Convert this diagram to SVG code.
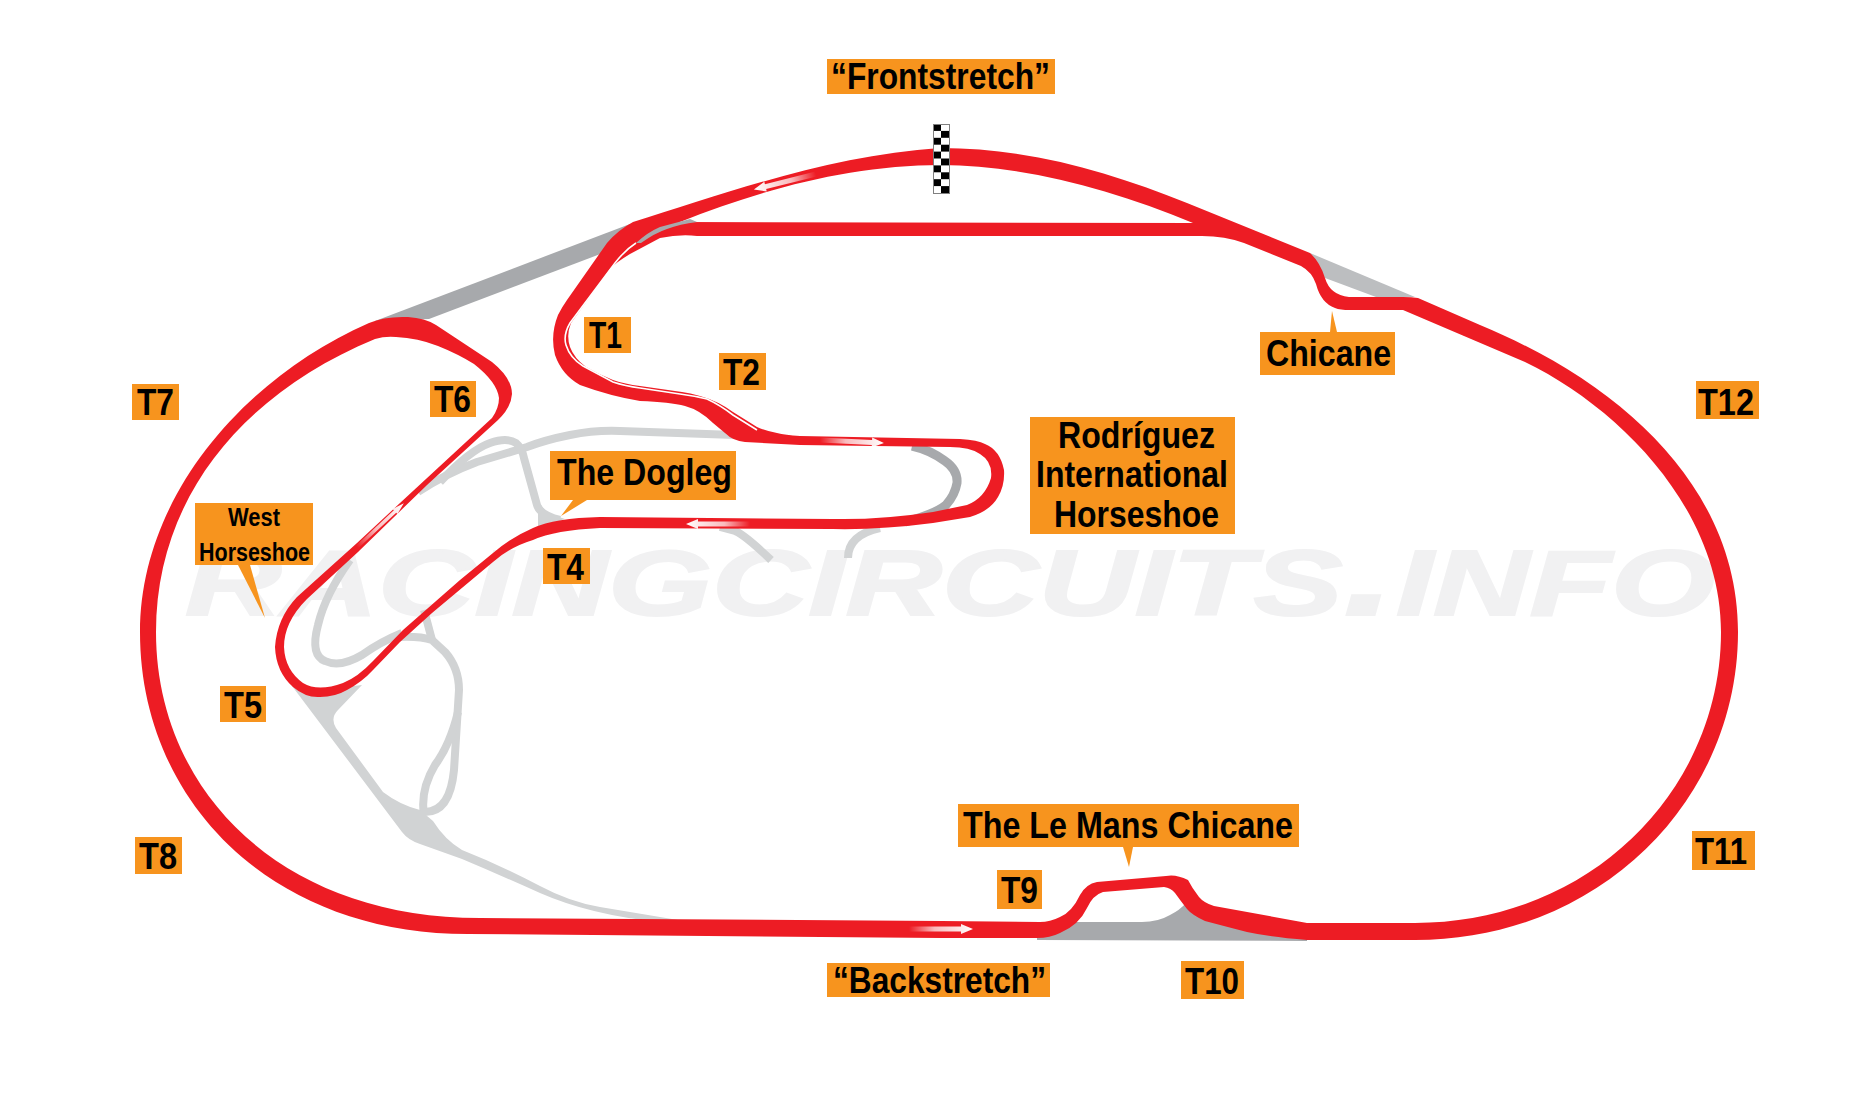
<svg xmlns="http://www.w3.org/2000/svg" width="1875" height="1110" viewBox="0 0 1875 1110">
<style>
.lb{fill:#f7941e}
.t{font-family:"Liberation Sans",Arial,sans-serif;font-weight:bold;font-size:36px;fill:#000}
.s{font-size:25px}
.w{font-family:"Liberation Sans",Arial,sans-serif;font-weight:bold;font-style:italic;font-variant:small-caps;font-size:132px;fill:#f1f1f2;stroke:#f1f1f2;stroke-width:2}
.lg{fill:none;stroke:#d1d3d4;stroke-width:8}
.dg{fill:none;stroke:#a7a9ac;stroke-width:9}
</style>
<defs>
<linearGradient id="fade"><stop offset="0" stop-color="#fff" stop-opacity="0"/><stop offset=".4" stop-color="#fff" stop-opacity=".7"/><stop offset="1" stop-color="#fff"/></linearGradient>
<path id="arrow" fill="url(#fade)" d="M0 -2.5H52V-5L64 0L52 5V2.5H0Z"/>
<pattern id="chk" x="933" y="124" width="16" height="13.8" patternUnits="userSpaceOnUse">
<rect width="16" height="13.8" fill="#fff"/><rect width="8" height="6.9" fill="#000"/><rect x="8" y="6.9" width="8" height="6.9" fill="#000"/>
</pattern>
</defs>
<rect width="1875" height="1110" fill="#fff"/>
<text id="watermark" class="w" x="185" y="615" textLength="1530" lengthAdjust="spacingAndGlyphs">racingcircuits.info</text>
<g id="service-roads">
<path fill="#a7a9ac" d="M375 321L630 224L640 232L603 253L429 319Z"/>
<path fill="#bcbec0" d="M1310 253L1415 297L1376 297L1325 278Z"/>
<path fill="#a7a9ac" d="M1037 938L1076 922L1142 922Q1158 922 1170 915Q1180 910 1186 903L1205 915L1253 925L1307 932L1307 941L1037 940Z"/>
<path class="dg" d="M912 446Q930 450 945 461Q958 470 957 483Q955 495 946 505Q935 514 905 522"/>
<path class="lg" d="M735 435L620 431Q595 430 570 435Q545 440 527 447L477 462Q445 474 418 492"/>
<path class="lg" stroke-width="7" d="M440 482Q470 450 490 443Q507 437 516 443Q522 448 524 458L537 505Q540 515 560 520"/>
<path fill="#d1d3d4" d="M538 510L538 527L565 519L547 513L541 505Z"/>
<path class="lg" d="M720 527L735 531Q745 535 771 560"/>
<path class="lg" stroke-width="9" d="M848 558Q848 535 880 528"/>
<path class="lg" d="M350 560Q325 595 318 625Q310 655 325 661Q340 668 362 655Q380 642 402 633"/>
<path class="lg" d="M398 637Q420 636 432 640L445 652Q459 668 459 690L454 770Q450 812 425 812"/>
<path class="lg" d="M424 610L432 640"/>
<path class="lg" stroke-width="6.5" d="M458 712Q450 745 435 765Q420 790 424 815"/>
<path fill="#d1d3d4" d="M292 686L402 832Q408 840 420 844L462 859Q500 875 540 893Q590 915 660 922L690 922L600 907Q570 902 540 886Q500 865 462 850Q445 840 433 821L420 810Q400 805 383 792L336 728Q330 718 338 710L362 685L320 690Z"/>
</g>
<g id="track">
<path fill="#ed1c24" fill-rule="evenodd" d="M633 222C720 195 830 155 940 148C1030 148 1110 172 1187 203L1310 253Q1320 262 1325 278Q1330 295 1349 297L1403 297Q1412 297 1418 298L1480 325C1625 385 1738 490 1738 632C1738 800 1600 940 1415 940L1307 940Q1270 937 1247 932Q1220 925 1205 921Q1192 915 1187 909Q1180 900 1175 893Q1171 888 1164 887L1103 892Q1093 895 1087 908Q1079 925 1060 933Q1050 938 1037 938L941 938L468 934C270 934 140 800 140 632C140 500 240 380 369 323Q385 316 408 317Q425 318 436 325L492 362Q512 378 512 394Q511 408 498 420L427 485L358 552L307 599Q284 622 284 647Q285 670 303 683Q318 692 343 683Q358 677 373 661L403 630L460 580L493 553Q510 538 533 528Q555 518 600 517L833 519Q880 520 933 512L967 505Q985 498 991 478Q993 462 980 454Q970 447 950 447L800 445L745 442Q733 441 725 433L713 423Q700 410 685 406Q670 402 640 401Q610 396 580 385Q562 375 555 355Q550 335 558 315Q562 307 567 300L607 243Q618 230 633 222Z
M1202 236Q1225 236 1244 243L1301 266Q1312 272 1316 284Q1321 303 1335 308Q1340 310 1350 310L1403 310L1525 362C1620 408 1721 510 1721 632C1721 790 1590 923 1415 923L1307 923L1214 906Q1204 903 1199 897Q1192 888 1188 880Q1176 874 1166 876L1097 882Q1086 884 1080 895Q1072 912 1060 917Q1050 922 1040 922L941 921L480 918C280 918 156 790 156 632C156 500 240 395 375 339Q385 336 396 337Q418 338 438 346Q458 354 474 364Q497 382 499 398Q499 408 492 418L400 503L357 543L297 597Q277 618 275 647Q276 672 293 687Q306 698 320 697Q335 697 347 690Q362 682 373 670L400 642L432 613L493 562Q510 547 533 540Q555 530 600 528L833 529Q880 530 933 523L970 517Q990 511 998 497Q1005 485 1004 470Q1000 450 985 444Q978 440 960 439L800 436Q785 435 777 433Q766 431 757 427L733 412Q718 401 700 396Q690 393 682 392L640 386Q625 384 613 380Q598 374 586 367Q574 358 570 347Q566 335 571 323L610 269Q615 263 630 254L660 238Q680 234 697 236Z
M1193 223C1110 188 1020 165 941 165C850 165 760 190 680 222Z"/>
<path fill="#a7a9ac" d="M690 219L660 227Q648 232 636 243L641 243Q655 233 667 229Q680 224 697 222Z"/>
<path fill="none" stroke="#fff" stroke-width="1.6" d="M636 243Q625 250 615 263L570 323Q563 335 566 345Q570 358 583 366L613 382Q625 386 640 388L680 394Q695 396 707 399Q720 405 733 415L757 430"/>
</g>
<g id="direction-arrows">
<use href="#arrow" transform="translate(820 440) rotate(2.7)"/>
<use href="#arrow" transform="translate(750 524) rotate(180)"/>
<use href="#arrow" transform="translate(816 174) rotate(166)"/>
<use href="#arrow" transform="translate(357 547) rotate(-43) scale(1 .7)"/>
<use href="#arrow" transform="translate(909 929)"/>
</g>
<rect id="start-finish" x="933.5" y="124.5" width="16" height="69" fill="url(#chk)" stroke="#808080" stroke-width="1"/>
<g id="frontstretch"><rect class="lb" x="827" y="59" width="228" height="35"/><text class="t" x="831" y="89" textLength="219" lengthAdjust="spacingAndGlyphs">“Frontstretch”</text></g>
<g id="t7"><rect class="lb" x="132" y="384" width="47" height="36"/><text class="t" x="137" y="415" textLength="37" lengthAdjust="spacingAndGlyphs">T7</text></g>
<g id="t6"><rect class="lb" x="430" y="381" width="46" height="36"/><text class="t" x="434" y="412" textLength="37" lengthAdjust="spacingAndGlyphs">T6</text></g>
<g id="t1"><rect class="lb" x="584" y="317" width="47" height="36"/><text class="t" x="589" y="348" textLength="33" lengthAdjust="spacingAndGlyphs">T1</text></g>
<g id="t2"><rect class="lb" x="719" y="353" width="47" height="37"/><text class="t" x="723" y="385" textLength="37" lengthAdjust="spacingAndGlyphs">T2</text></g>
<g id="dogleg"><polygon class="lb" points="573,500 587,500 561,516"/><rect class="lb" x="550" y="451" width="186" height="49"/><text class="t" x="557" y="485" textLength="175" lengthAdjust="spacingAndGlyphs">The Dogleg</text></g>
<g id="t4"><rect class="lb" x="543" y="548" width="47" height="36"/><text class="t" x="547" y="580" textLength="37" lengthAdjust="spacingAndGlyphs">T4</text></g>
<g id="west-horseshoe"><polygon class="lb" points="238,565 250,565 265,618"/><rect class="lb" x="195" y="503" width="118" height="62"/><text class="t s" x="228" y="526" textLength="52" lengthAdjust="spacingAndGlyphs">West</text><text class="t s" x="199" y="561" textLength="111" lengthAdjust="spacingAndGlyphs">Horseshoe</text></g>
<g id="t5"><rect class="lb" x="220" y="686" width="46" height="36"/><text class="t" x="224" y="718" textLength="38" lengthAdjust="spacingAndGlyphs">T5</text></g>
<g id="t8"><rect class="lb" x="135" y="837" width="47" height="37"/><text class="t" x="139" y="869" textLength="38" lengthAdjust="spacingAndGlyphs">T8</text></g>
<g id="backstretch"><rect class="lb" x="827" y="963" width="223" height="34"/><text class="t" x="833" y="993" textLength="213" lengthAdjust="spacingAndGlyphs">“Backstretch”</text></g>
<g id="t9"><rect class="lb" x="997" y="870" width="45" height="39"/><text class="t" x="1001" y="903" textLength="37" lengthAdjust="spacingAndGlyphs">T9</text></g>
<g id="le-mans-chicane"><polygon class="lb" points="1123,847 1133,847 1129,867"/><rect class="lb" x="958" y="804" width="341" height="43"/><text class="t" x="963" y="838" textLength="330" lengthAdjust="spacingAndGlyphs">The Le Mans Chicane</text></g>
<g id="t10"><rect class="lb" x="1181" y="961" width="63" height="38"/><text class="t" x="1185" y="994" textLength="54" lengthAdjust="spacingAndGlyphs">T10</text></g>
<g id="t11"><rect class="lb" x="1692" y="831" width="63" height="39"/><text class="t" x="1695" y="864" textLength="52" lengthAdjust="spacingAndGlyphs">T11</text></g>
<g id="t12"><rect class="lb" x="1696" y="381" width="63" height="38"/><text class="t" x="1698" y="415" textLength="56" lengthAdjust="spacingAndGlyphs">T12</text></g>
<g id="chicane"><polygon class="lb" points="1330,332 1337,332 1332,311"/><rect class="lb" x="1260" y="332" width="135" height="43"/><text class="t" x="1266" y="366" textLength="125" lengthAdjust="spacingAndGlyphs">Chicane</text></g>
<g id="rodriguez-horseshoe"><rect class="lb" x="1030" y="417" width="205" height="117"/><text class="t" x="1058" y="448" textLength="157" lengthAdjust="spacingAndGlyphs">Rodríguez</text><text class="t" x="1036" y="487" textLength="192" lengthAdjust="spacingAndGlyphs">International</text><text class="t" x="1054" y="527" textLength="165" lengthAdjust="spacingAndGlyphs">Horseshoe</text></g>
</svg>
